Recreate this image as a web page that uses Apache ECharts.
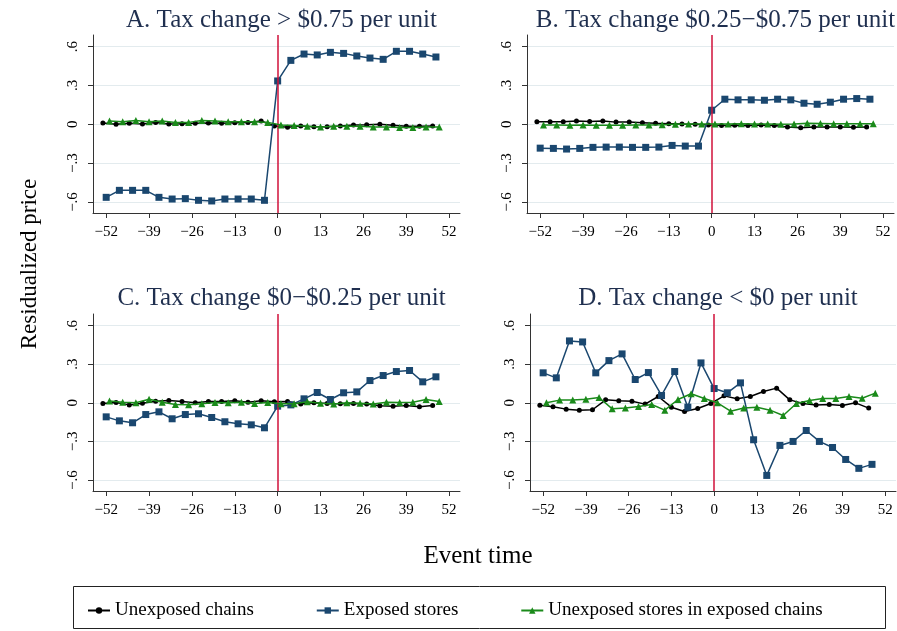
<!DOCTYPE html>
<html>
<head>
<meta charset="utf-8">
<script src="https://cdn.jsdelivr.net/npm/echarts@6/dist/echarts.min.js"></script>
<style>html,body{margin:0;padding:0;background:#fff}#chart{width:897px;height:631px}</style>
</head>
<body>
<div id="chart"></div>
<script>
// Event-time positions (4-week bins; the two comparison groups are drawn slightly offset)
const timeUnexposedChains = [-53,-49,-45,-41,-37,-33,-29,-25,-21,-17,-13,-9,-5,-1,3,7,11,15,19,23,27,31,35,39,43,47];
const timeExposedStores   = [-52,-48,-44,-40,-36,-32,-28,-24,-20,-16,-12,-8,-4,0,4,8,12,16,20,24,28,32,36,40,44,48];
const timeUnexposedStores = [-51,-47,-43,-39,-35,-31,-27,-23,-19,-15,-11,-7,-3,1,5,9,13,17,21,25,29,33,37,41,45,49];

const xTickValues = [-52,-39,-26,-13,0,13,26,39,52];
const xTickLabels = ['\u221252','\u221239','\u221226','\u221213','0','13','26','39','52'];
const yTickValues = [-0.6,-0.3,0,0.3,0.6];
const yTickLabels = ['\u2212.6','\u2212.3','0','.3','.6'];

const panelTitles = [
  'A. Tax change > $0.75 per unit',
  'B. Tax change $0.25\u2212$0.75 per unit',
  'C. Tax change $0\u2212$0.25 per unit',
  'D. Tax change < $0 per unit'
];
const seriesNames = ['Unexposed chains','Exposed stores','Unexposed stores in exposed chains'];

// Panel A
const aUnexposedChains = [0.010,0.000,0.008,0.003,0.015,0.003,0.005,0.008,0.010,0.008,0.013,0.015,0.026,-0.013,-0.023,-0.013,-0.018,-0.018,-0.013,-0.005,-0.003,0.000,-0.008,-0.015,-0.015,-0.013];
const aExposedStores   = [-0.564,-0.510,-0.510,-0.510,-0.564,-0.577,-0.574,-0.587,-0.592,-0.577,-0.577,-0.577,-0.587,0.335,0.494,0.543,0.536,0.556,0.548,0.528,0.512,0.502,0.564,0.564,0.543,0.520];
const aUnexposedStores = [0.025,0.020,0.030,0.020,0.025,0.015,0.015,0.030,0.025,0.020,0.020,0.020,0.015,-0.005,-0.010,-0.015,-0.020,-0.015,-0.015,-0.015,-0.020,-0.020,-0.025,-0.025,-0.020,-0.020];
// Panel B
const bUnexposedChains = [0.020,0.020,0.020,0.025,0.022,0.025,0.017,0.018,0.013,0.008,0.005,0.002,0.001,-0.005,-0.010,-0.008,-0.010,-0.005,-0.010,-0.020,-0.027,-0.020,-0.020,-0.020,-0.022,-0.020];
const bExposedStores   = [-0.184,-0.186,-0.191,-0.186,-0.178,-0.176,-0.176,-0.178,-0.178,-0.176,-0.163,-0.168,-0.168,0.109,0.194,0.189,0.189,0.186,0.194,0.189,0.163,0.155,0.171,0.194,0.199,0.194];
const bUnexposedStores = [-0.005,-0.005,-0.008,-0.005,-0.008,-0.008,-0.008,-0.005,-0.005,-0.003,0.000,0.002,0.003,0.003,0.003,0.005,0.003,0.002,0.000,0.003,0.008,0.007,0.005,0.005,0.005,0.005];
// Panel C
const cUnexposedChains = [-0.005,0.003,-0.016,-0.003,0.013,0.018,0.010,0.000,0.010,0.010,0.016,0.005,0.016,0.008,0.010,-0.010,0.000,-0.005,-0.008,-0.005,-0.010,-0.023,-0.026,-0.020,-0.030,-0.020];
const cExposedStores   = [-0.109,-0.140,-0.155,-0.091,-0.070,-0.124,-0.091,-0.085,-0.114,-0.147,-0.163,-0.171,-0.194,-0.026,-0.016,0.031,0.080,0.026,0.078,0.085,0.173,0.212,0.243,0.251,0.163,0.202];
const cUnexposedStores = [0.015,0.005,0.000,0.028,0.005,-0.013,-0.015,-0.008,0.003,0.000,0.005,-0.005,0.003,-0.008,-0.008,0.008,-0.003,-0.010,0.000,-0.003,-0.010,0.005,0.003,0.005,0.025,0.010];
// Panel D
const dUnexposedChains = [-0.018,-0.031,-0.049,-0.057,-0.054,0.023,0.016,0.013,-0.010,0.049,-0.034,-0.067,-0.044,-0.005,0.054,0.031,0.049,0.088,0.114,0.023,-0.005,-0.016,-0.013,-0.021,0.000,-0.041];
const dExposedStores   = [0.233,0.194,0.481,0.473,0.233,0.328,0.380,0.181,0.235,0.057,0.243,-0.034,0.310,0.111,0.078,0.155,-0.287,-0.564,-0.331,-0.300,-0.215,-0.300,-0.347,-0.440,-0.509,-0.478];
const dUnexposedStores = [0.000,0.021,0.021,0.028,0.041,-0.047,-0.041,-0.028,-0.013,-0.057,0.026,0.070,0.034,0.000,-0.065,-0.041,-0.034,-0.057,-0.098,-0.005,0.018,0.034,0.034,0.049,0.036,0.075];

const panels = [
  [aUnexposedChains, aExposedStores, aUnexposedStores],
  [bUnexposedChains, bExposedStores, bUnexposedStores],
  [cUnexposedChains, cExposedStores, cUnexposedStores],
  [dUnexposedChains, dExposedStores, dUnexposedStores]
];
const timeArrays = [timeUnexposedChains, timeExposedStores, timeUnexposedStores];

const FONT = '"Liberation Serif","Times New Roman",serif';
const colors = ['#000000','#1a476f','#1a8a1a'];
const symbols = ['circle','rect','triangle'];
const symbolSizes = [5,7,7];

const grids = [
  {left: 93, top: 35, width: 367, height: 178},
  {left: 527, top: 35, width: 367, height: 178},
  {left: 93, top: 314, width: 367, height: 177},
  {left: 530, top: 314, width: 366, height: 177}
];

const xAxes = grids.map((g,i) => ({
  type: 'value', gridIndex: i, min: -56, max: 55.3,
  axisLine: {show: true, onZero: false, lineStyle: {color: '#333', width: 1}},
  axisTick: {show: true, length: 5, customValues: xTickValues, lineStyle: {color: '#333'}},
  axisLabel: {customValues: xTickValues, margin: 12, color: '#000', fontSize: 15, fontFamily: FONT,
    formatter: v => xTickLabels[xTickValues.indexOf(Math.round(v))]},
  splitLine: {show: false}
}));
const yAxes = grids.map((g,i) => ({
  type: 'value', gridIndex: i, min: -0.685, max: 0.69,
  axisLine: {show: true, onZero: false, lineStyle: {color: '#333', width: 1}},
  axisTick: {show: true, length: 5, customValues: yTickValues, lineStyle: {color: '#333'}},
  axisLabel: {customValues: yTickValues, rotate: 90, margin: 12, color: '#000', fontSize: 15, fontFamily: FONT,
    formatter: v => yTickLabels[yTickValues.indexOf(Math.round(v*10)/10)]},
  splitLine: {show: true, lineStyle: {color: '#e3ebee', width: 1.2}}
}));

const series = [];
panels.forEach((vals, p) => {
  vals.forEach((arr, s) => {
    const ser = {
      name: seriesNames[s], type: 'line', xAxisIndex: p, yAxisIndex: p,
      data: timeArrays[s].map((t,k) => [t, arr[k]]),
      symbol: symbols[s], symbolSize: symbolSizes[s], showSymbol: true,
      lineStyle: {color: colors[s], width: 1.5},
      itemStyle: {color: colors[s]},
      z: 3 + s, animation: false
    };
    if (s === 0) {
      ser.markLine = {silent: true, symbol: 'none', label: {show: false},
        lineStyle: {color: '#d0103a', width: 1.5, type: 'solid'},
        data: [{xAxis: 0}], animation: false};
    }
    series.push(ser);
  });
});

const titles = grids.map((g,i) => ({
  text: panelTitles[i], left: g.left + g.width/2, top: i < 2 ? 3 : 281, textAlign: 'center',
  textStyle: {fontFamily: FONT, fontSize: 25, fontWeight: 'normal', color: '#1f2f4f'}
}));

const chart = echarts.init(document.getElementById('chart'), null, {renderer: 'canvas'});
chart.setOption({
  backgroundColor: '#ffffff',
  animation: false,
  title: titles,
  grid: grids,
  xAxis: xAxes,
  yAxis: yAxes,
  series: series,
  legend: {
    data: seriesNames, left: 82, top: 596, itemGap: 62, itemWidth: 22, itemHeight: 8,
    textStyle: {fontFamily: FONT, fontSize: 19, color: '#000'}, selectedMode: false
  },
  graphic: [
    {type: 'rect', shape: {x: 73.5, y: 586.5, width: 812, height: 42}, style: {fill: 'none', stroke: '#222', lineWidth: 1}, silent: true},
    {type: 'text', x: 30, y: 264, rotation: Math.PI/2, style: {text: 'Residualized price', font: '23px ' + FONT, fill: '#000', textAlign: 'center', textVerticalAlign: 'middle'}},
    {type: 'text', x: 478, y: 556, style: {text: 'Event time', font: '25px ' + FONT, fill: '#000', textAlign: 'center', textVerticalAlign: 'middle'}}
  ]
});
</script>
</body>
</html>
